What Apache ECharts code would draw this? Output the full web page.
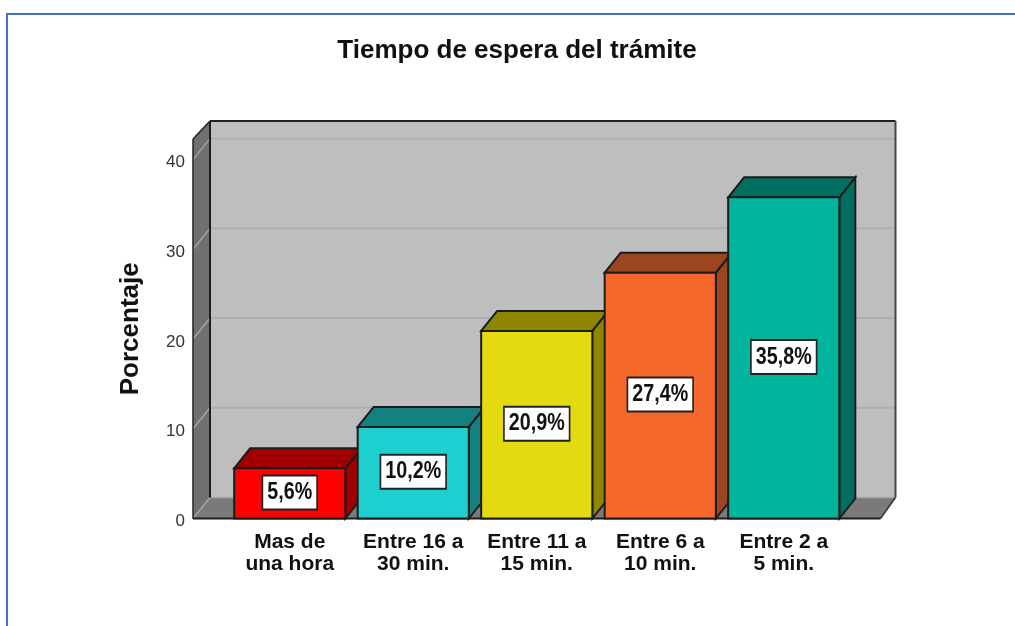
<!DOCTYPE html>
<html>
<head>
<meta charset="utf-8">
<style>
  html, body { margin: 0; padding: 0; background: #fff; overflow: hidden; }
  #frame { position: absolute; left: 6px; top: 13px; right: -4px; bottom: -4px; border: 2px solid #4472C4; }
  /* the reference is a slightly soft screenshot */
  #chart { position: absolute; left: 0; top: 0; width: 1015px; height: 626px; filter: blur(0.4px); }
</style>
<script src="https://cdn.jsdelivr.net/npm/echarts@6/dist/echarts.min.js"></script>
</head>
<body>
<div id="frame"></div>
<div id="chart"></div>
<script>
  var categories = ['Mas de\nuna hora', 'Entre 16 a\n30 min.', 'Entre 11 a\n15 min.', 'Entre 6 a\n10 min.', 'Entre 2 a\n5 min.']
  var values = [5.6, 10.2, 20.9, 27.4, 35.8]
  var labels = ['5,6%', '10,2%', '20,9%', '27,4%', '35,8%']
  var yTicks = [10, 20, 30, 40]

  var faceColors = ['#FF0000', '#1DCFCF', '#E5D90F', '#F4692B', '#00B49E']
  var darkColors = ['#A00000', '#148080', '#8F8600', '#9C4620', '#006E60']

  var FONT = '"Liberation Sans", Arial, sans-serif'
  var EDGE = '#1c1c1c'
  // 3d depth of the box and of the bars, in pixels
  var WALL_DX = 17, WALL_DY = -21
  var BAR_DX = 16, BAR_DY = -20

  function poly(points, fill, stroke, width) {
    return { type: 'polygon', shape: { points: points }, style: { fill: fill, stroke: stroke || null, lineWidth: width || 0 } }
  }
  function seg(x1, y1, x2, y2, color, width) {
    return { type: 'line', shape: { x1: x1, y1: y1, x2: x2, y2: y2 }, style: { stroke: color, lineWidth: width } }
  }

  // back wall, left wall and floor, placed from the value scale
  function renderBox(params, api) {
    var cs = params.coordSys
    var sideGap = 35
    var l = cs.x - sideGap, r = cs.x + cs.width + sideGap
    var y0 = api.coord([0, 0])[1]
    var top = cs.y
    var backTop = top - 18
    var backL = l + WALL_DX, backR = r + WALL_DX - 2
    var backY0 = y0 + WALL_DY
    var kids = [
      poly([[backL, backTop], [backR, backTop], [backR, backY0], [backL, backY0]], '#BEBEBE'),
      poly([[l, top], [backL, backTop], [backL, backY0], [l, y0]], '#707070'),
      poly([[l, y0], [backL, backY0], [backR, backY0], [r, y0]], '#7A7A7A')
    ]
    yTicks.forEach(function (t) {
      var y = api.coord([0, t])[1]
      kids.push(seg(backL, y + WALL_DY, backR, y + WALL_DY, '#AEAEAE', 2))
      kids.push(seg(l, y, backL, y + WALL_DY, '#A4A4A4', 1.5))
    })
    kids.push(seg(l, y0, backL, backY0, '#A4A4A4', 1.5))
    kids.push(seg(backL, backY0, backR, backY0, '#A8A8A8', 1.5))
    kids.push(seg(backL, backTop, backR, backTop, '#222', 2))
    kids.push(seg(backR, backTop, backR, backY0, '#444', 2))
    kids.push(seg(backR, backY0, r, y0, '#333', 1.5))
    kids.push(seg(backL, backTop, backL, backY0, EDGE, 2))
    kids.push(seg(l, top, backL, backTop, '#222', 1.5))
    kids.push(seg(l, top, l, y0, '#222', 1.5))
    kids.push(seg(l, y0, r, y0, EDGE, 2))
    return { type: 'group', children: kids }
  }

  function renderBar(params, api) {
    var i = params.dataIndex
    var p = api.coord([api.value(0), api.value(1)])
    var y0 = api.coord([api.value(0), 0])[1]
    var w = api.size([1, 0])[0] * 0.9
    var l = p[0] - w / 2, r = p[0] + w / 2, t = p[1]
    return {
      type: 'group',
      children: [
        poly([[r, t], [r + BAR_DX, t + BAR_DY], [r + BAR_DX, y0 + BAR_DY], [r, y0]], darkColors[i], EDGE, 2),
        poly([[l, t], [l + BAR_DX, t + BAR_DY], [r + BAR_DX, t + BAR_DY], [r, t]], darkColors[i], EDGE, 2),
        poly([[l, t], [r, t], [r, y0], [l, y0]], faceColors[i], EDGE, 2),
        {
          type: 'text',
          x: p[0],
          y: (t + y0) / 2 - 1,
          scaleX: 0.82,
          style: {
            text: labels[i],
            align: 'center',
            verticalAlign: 'middle',
            fontFamily: FONT,
            fontWeight: 'bold',
            fontSize: 24,
            fill: '#111',
            backgroundColor: '#fff',
            borderColor: '#222',
            borderWidth: 2,
            padding: [5, 5, 3, 5]
          }
        }
      ]
    }
  }

  var myChart = echarts.init(document.getElementById('chart'))
  myChart.setOption({
    animation: false,
    backgroundColor: 'transparent',
    title: {
      text: 'Tiempo de espera del trámite',
      left: 512,
      top: 33,
      textAlign: 'center',
      textStyle: { fontFamily: FONT, fontSize: 26, fontWeight: 'bold', color: '#111' }
    },
    grid: { left: 228, top: 139, width: 617.5, height: 379.5 },
    xAxis: {
      type: 'category',
      data: categories,
      axisLine: { show: false },
      axisTick: { show: false },
      axisLabel: {
        margin: 13,
        interval: 0,
        fontFamily: FONT,
        fontSize: 21,
        fontWeight: 'bold',
        lineHeight: 22,
        color: '#111'
      }
    },
    yAxis: {
      type: 'value',
      min: 0,
      max: 42.3,
      interval: 10,
      offset: 35,
      name: 'Porcentaje',
      nameLocation: 'middle',
      nameRotate: 90,
      nameGap: 49,
      nameTextStyle: { fontFamily: FONT, fontSize: 26, fontWeight: 'bold', color: '#111' },
      axisLine: { show: false },
      axisTick: { show: false },
      splitLine: { show: false },
      axisLabel: {
        showMaxLabel: false,
        margin: 8,
        fontFamily: FONT,
        fontSize: 17,
        color: '#333',
        verticalAlign: 'top',
        lineHeight: 6
      }
    },
    series: [
      { type: 'custom', renderItem: renderBox, data: [[0, 0]], silent: true, z: 1 },
      { type: 'custom', renderItem: renderBar, data: values.map(function (v, i) { return [i, v] }), encode: { x: 0, y: 1 }, z: 2 }
    ]
  })
</script>
</body>
</html>
